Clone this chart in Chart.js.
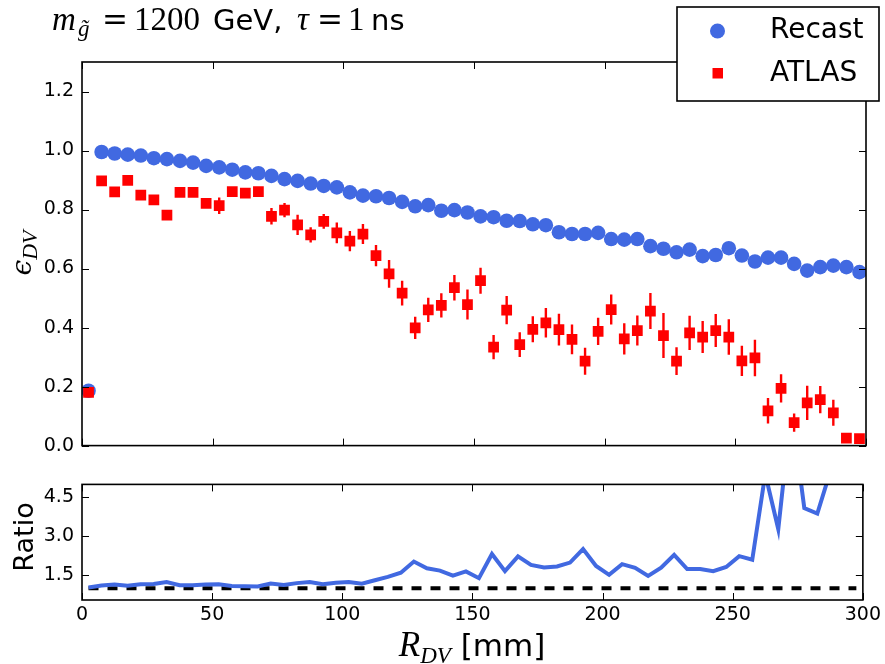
<!DOCTYPE html>
<html><head><meta charset="utf-8">
<script src="https://cdn.jsdelivr.net/npm/chart.js@4/dist/chart.umd.min.js"></script>
<style>
html,body{margin:0;padding:0;background:#fff;}
#wrap{position:relative;width:885px;height:664px;background:#fff;}
#top{position:absolute;left:0;top:0;width:885px;height:465px;}
#bot{position:absolute;left:0;top:465px;width:885px;height:199px;}
</style></head><body>
<div id="wrap"><canvas id="top" width="885" height="465"></canvas><canvas id="bot" width="885" height="199"></canvas></div>
<script>
// ---- data ----
const rDV = [2.5,7.5,12.5,17.5,22.5,27.5,32.5,37.5,42.5,47.5,52.5,57.5,62.5,67.5,72.5,77.5,82.5,87.5,92.5,97.5,
  102.5,107.5,112.5,117.5,122.5,127.5,132.5,137.5,142.5,147.5,152.5,157.5,162.5,167.5,172.5,177.5,182.5,187.5,192.5,197.5,
  202.5,207.5,212.5,217.5,222.5,227.5,232.5,237.5,242.5,247.5,252.5,257.5,262.5,267.5,272.5,277.5,282.5,287.5,292.5,297.5];
const recast = [0.186,0.995,0.990,0.986,0.983,0.974,0.971,0.965,0.959,0.948,0.943,0.935,0.926,0.923,0.914,0.903,0.897,0.888,0.880,0.875,
  0.858,0.847,0.845,0.839,0.826,0.811,0.815,0.796,0.798,0.790,0.777,0.774,0.762,0.761,0.750,0.747,0.723,0.717,0.717,0.721,
  0.700,0.698,0.700,0.676,0.667,0.655,0.664,0.642,0.646,0.669,0.644,0.624,0.637,0.637,0.616,0.593,0.605,0.610,0.605,0.588];
const atlas = [0.180,0.897,0.860,0.899,0.849,0.833,0.781,0.858,0.858,0.821,0.813,0.861,0.856,0.861,0.777,0.798,0.748,0.714,0.760,0.721,
  0.693,0.717,0.644,0.582,0.517,0.399,0.460,0.475,0.535,0.478,0.559,0.334,0.459,0.342,0.394,0.416,0.393,0.360,0.286,0.387,
  0.461,0.362,0.390,0.456,0.373,0.286,0.382,0.368,0.390,0.368,0.287,0.297,0.118,0.194,0.078,0.145,0.156,0.111,0.025,0.024];
const atlasErr = [0.005,0.012,0.012,0.012,0.012,0.012,0.012,0.012,0.012,0.012,0.028,0.014,0.014,0.014,0.028,0.024,0.034,0.026,0.025,0.035,
  0.034,0.034,0.036,0.047,0.042,0.038,0.041,0.041,0.043,0.051,0.044,0.041,0.048,0.042,0.044,0.050,0.054,0.050,0.046,0.046,
  0.051,0.053,0.051,0.061,0.076,0.047,0.058,0.054,0.056,0.060,0.051,0.062,0.043,0.048,0.031,0.058,0.046,0.044,0.005,0.005];
const ratio = [1.03,1.11,1.15,1.10,1.16,1.17,1.24,1.12,1.12,1.15,1.16,1.09,1.08,1.07,1.18,1.13,1.20,1.24,1.16,1.21,
  1.24,1.18,1.31,1.44,1.60,2.03,1.77,1.68,1.49,1.65,1.39,2.32,1.66,2.23,1.90,1.80,1.84,1.99,2.51,1.86,
  1.52,1.93,1.79,1.48,1.79,2.29,1.74,1.74,1.66,1.82,2.24,2.10,5.40,3.28,7.90,4.09,3.88,5.50,24.2,24.5];
const refLevel = 1;
const xTicks = [0,50,100,150,200,250,300];
const yTicksTop = [0.0,0.2,0.4,0.6,0.8,1.0,1.2];
const yTicksBot = [1.5,3.0,4.5];
const seriesNames = ['Recast','ATLAS'];

const BLUE = '#4169E1', RED = '#FF0000';
const SANS = '"DejaVu Sans", sans-serif';
const SERIF = '"Liberation Serif", "DejaVu Serif", serif';

function drawRich(ctx, parts, x, y){
  let cx = x;
  parts.forEach(p => {
    ctx.font = p.f;
    if (p.gap) cx += p.gap;
    if (p.at !== undefined) cx = p.at;
    ctx.fillText(p.t, cx, y + (p.dy || 0));
    cx += ctx.measureText(p.t).width;
  });
  return cx - x;
}
function richWidth(ctx, parts){
  let w = 0;
  parts.forEach(p => { ctx.font = p.f; w += (p.gap||0) + ctx.measureText(p.t).width; });
  return w;
}

const frameTicks = {
  id: 'frameTicks',
  afterDatasetsDraw(chart){
    const {ctx, chartArea: a, scales} = chart;
    ctx.save();
    ctx.strokeStyle = '#000';
    ctx.lineWidth = 1;
    const L = 7;
    ctx.beginPath();
    scales.x.ticks.forEach(t => {
      const px = Math.round(scales.x.getPixelForValue(t.value)) + 0.5;
      ctx.moveTo(px, a.bottom); ctx.lineTo(px, a.bottom - L);
      ctx.moveTo(px, a.top); ctx.lineTo(px, a.top + L);
    });
    scales.y.ticks.forEach(t => {
      const py = Math.round(scales.y.getPixelForValue(t.value)) + 0.5;
      ctx.moveTo(a.left, py); ctx.lineTo(a.left + L, py);
      ctx.moveTo(a.right, py); ctx.lineTo(a.right - L, py);
    });
    ctx.stroke();
    ctx.lineWidth = 1.6;
    ctx.strokeRect(a.left, a.top, a.width, a.height);
    ctx.restore();
  }
};

const errorBars = {
  id: 'errorBars',
  beforeDatasetsDraw(chart){
    const {ctx, scales} = chart;
    ctx.save();
    ctx.strokeStyle = RED;
    ctx.lineWidth = 2.4;
    ctx.beginPath();
    rDV.forEach((x, i) => {
      const px = scales.x.getPixelForValue(x);
      ctx.moveTo(px, scales.y.getPixelForValue(atlas[i] - atlasErr[i]));
      ctx.lineTo(px, scales.y.getPixelForValue(atlas[i] + atlasErr[i]));
    });
    ctx.stroke();
    ctx.restore();
  }
};

const topDecor = {
  id: 'topDecor',
  afterDraw(chart){
    const ctx = chart.ctx;
    ctx.save();
    ctx.fillStyle = '#000';
    ctx.textBaseline = 'alphabetic';
    ctx.textAlign = 'left';
    // title
    drawRich(ctx, [
      {t:'m', f:'italic 33px ' + SERIF, at:52},
      {t:'g\u0303', f:'italic 23px ' + SERIF, dy:6, at:78},
      {t:'=', f:'31px "DejaVu Serif", serif', at:102},
      {t:'1200', f:'33px ' + SERIF, at:134},
      {t:'GeV,', f:'29px ' + SANS, at:213},
      {t:'\u03C4', f:'italic 33px ' + SERIF, at:297},
      {t:'=', f:'31px "DejaVu Serif", serif', at:317},
      {t:'1', f:'33px ' + SERIF, at:348},
      {t:'ns', f:'29px ' + SANS, at:371}
    ], 52, 30);
    // y label
    const yl = [
      {t:'\u03F5', f:'italic 28px "DejaVu Serif", serif'},
      {t:'DV', f:'italic 22px ' + SERIF, dy:6}
    ];
    const w = richWidth(ctx, yl);
    ctx.translate(31, 253);
    ctx.rotate(-Math.PI/2);
    drawRich(ctx, yl, -w/2, 0);
    ctx.setTransform(1,0,0,1,0,0);
    // legend
    ctx.fillStyle = '#fff';
    ctx.fillRect(677, 7, 202, 94);
    ctx.strokeStyle = '#000';
    ctx.lineWidth = 1.6;
    ctx.strokeRect(677, 7, 202, 94);
    ctx.fillStyle = BLUE;
    ctx.beginPath(); ctx.arc(717.5, 31, 7.5, 0, Math.PI*2); ctx.fill();
    ctx.fillStyle = RED;
    ctx.fillRect(712.5, 68, 10.5, 10.5);
    ctx.fillStyle = '#000';
    ctx.font = '28px ' + SANS;
    ctx.textBaseline = 'middle';
    ctx.fillText(seriesNames[0], 770, 31);
    ctx.fillText(seriesNames[1], 770, 74);
    ctx.restore();
  }
};

const botDecor = {
  id: 'botDecor',
  afterDraw(chart){
    const ctx = chart.ctx;
    ctx.save();
    ctx.fillStyle = '#000';
    ctx.textBaseline = 'alphabetic';
    ctx.textAlign = 'left';
    const xl = [
      {t:'R', f:'italic 35px ' + SERIF},
      {t:'DV', f:'italic 23px ' + SERIF, dy:7},
      {t:' [mm]', f:'31px ' + SANS}
    ];
    const w = richWidth(ctx, xl);
    drawRich(ctx, xl, 472 - w/2, 191);
    ctx.font = '27px ' + SANS;
    ctx.textAlign = 'center';
    ctx.translate(33, 72);
    ctx.rotate(-Math.PI/2);
    ctx.fillText('Ratio', 0, 0);
    ctx.restore();
  }
};

Chart.defaults.font.family = SANS;
Chart.defaults.color = '#000';

new Chart(document.getElementById('top'), {
  type: 'scatter',
  data: {
    datasets: [
      {label: seriesNames[1], data: rDV.map((x,i)=>({x, y: atlas[i]})), pointStyle:'rect', pointRadius:7.6, pointHoverRadius:7.6,
       backgroundColor: RED, borderWidth:0},
      {label: seriesNames[0], data: rDV.map((x,i)=>({x, y: recast[i]})), pointStyle:'circle', pointRadius:7.3, pointHoverRadius:7.3,
       backgroundColor: BLUE, borderWidth:0}
    ]
  },
  options: {
    responsive:false, animation:false, events:[],
    layout:{padding:{left:0, right:19, top:62, bottom:18}},
    plugins:{legend:{display:false}, tooltip:{enabled:false}},
    scales:{
      x:{type:'linear', min:0, max:300,
         afterBuildTicks: s => { s.ticks = xTicks.map(v=>({value:v})); },
         ticks:{display:false}, grid:{display:false, drawTicks:false}, border:{display:false},
         afterFit: s => { s.height = 0; }},
      y:{type:'linear', min:0, max:1.3,
         afterBuildTicks: s => { s.ticks = yTicksTop.map(v=>({value:v})); },
         ticks:{padding:8, font:{size:19}, callback: v => v.toFixed(1)},
         grid:{display:false, drawTicks:false}, border:{display:false},
         afterFit: s => { s.width = 82; }}
    }
  },
  plugins:[errorBars, frameTicks, topDecor]
});

new Chart(document.getElementById('bot'), {
  type: 'scatter',
  data: {
    datasets: [
      {label:'Ratio', data: rDV.map((x,i)=>({x, y: ratio[i]})), showLine:true, pointRadius:0, borderColor: BLUE,
       borderWidth:4, tension:0, clip:0},
      {label:'ref', data: rDV.map(x=>({x, y: refLevel})), showLine:true, pointRadius:0, borderColor:'#000',
       borderWidth:4, borderDash:[10,9], tension:0, clip:0}
    ]
  },
  options: {
    responsive:false, animation:false, events:[],
    layout:{padding:{left:0, right:19, top:9, bottom:0}},
    plugins:{legend:{display:false}, tooltip:{enabled:false}},
    scales:{
      x:{type:'linear', min:0, max:300,
         afterBuildTicks: s => { s.ticks = xTicks.map(v=>({value:v})); },
         ticks:{padding:4, font:{size:19}, maxRotation:0, callback: v => String(v)},
         grid:{display:false, drawTicks:false}, border:{display:false},
         afterFit: s => { s.height = 64; }},
      y:{type:'linear', min:0.55, max:5,
         afterBuildTicks: s => { s.ticks = yTicksBot.map(v=>({value:v})); },
         ticks:{padding:8, font:{size:19}, callback: v => v.toFixed(1)},
         grid:{display:false, drawTicks:false}, border:{display:false},
         afterFit: s => { s.width = 82; }}
    }
  },
  plugins:[frameTicks, botDecor]
});
</script>
</body></html>
